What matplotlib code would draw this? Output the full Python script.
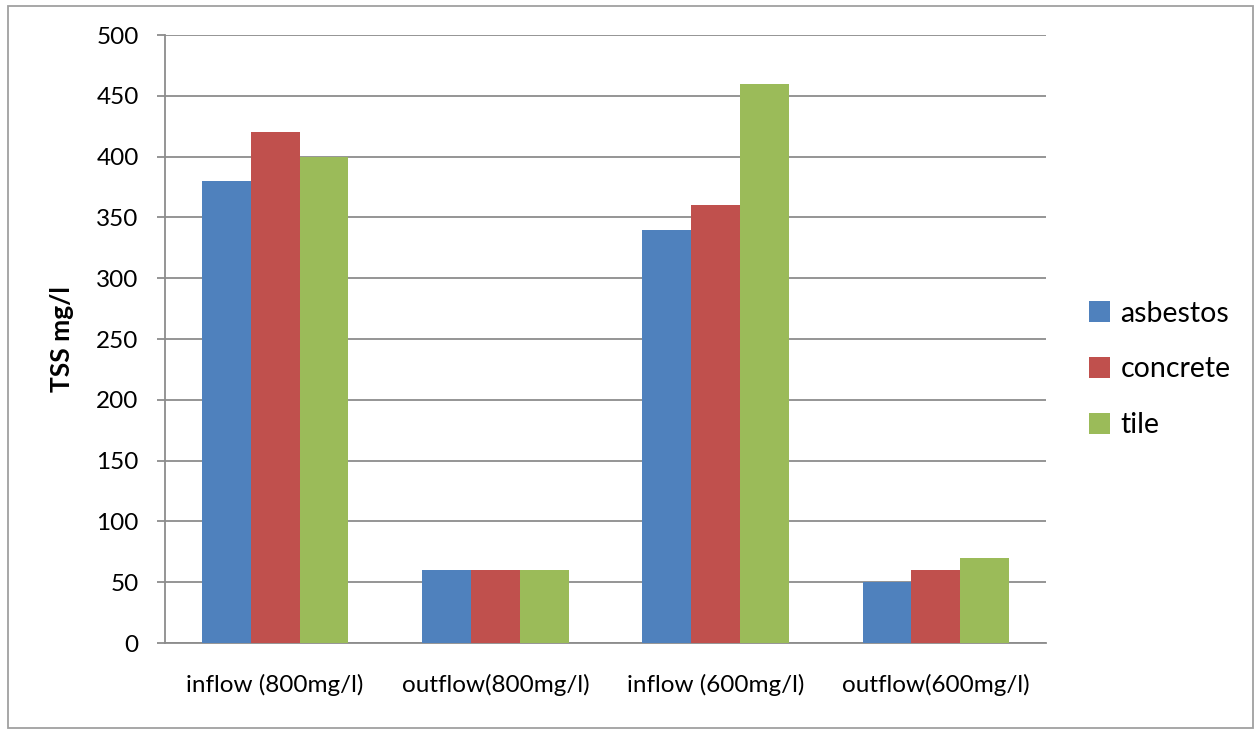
import matplotlib
matplotlib.use("Agg")
import matplotlib.pyplot as plt
import numpy as np
from matplotlib.patches import Rectangle

categories = ["inflow (800mg/l)", "outflow(800mg/l)", "inflow (600mg/l)", "outflow(600mg/l)"]
asbestos = [380, 60, 340, 50]
concrete = [420, 60, 360, 60]
tile = [400, 60, 460, 70]
series_names = ["asbestos", "concrete", "tile"]
colors = ["#4F81BD", "#C0504D", "#9BBB59"]
yticks = list(range(0, 501, 50))

plt.rcParams["font.family"] = ["Lato", "DejaVu Sans"]

fig = plt.figure(figsize=(12.55, 7.30), dpi=100)
ax = fig.add_axes([165 / 1255, 1 - 643 / 730, (1046 - 165) / 1255, (643 - 35) / 730])

x = np.arange(len(categories))
width = 0.222
for i, (vals, name, c) in enumerate(zip([asbestos, concrete, tile], series_names, colors)):
    ax.bar(x + (i - 1) * width, vals, width, color=c, label=name, zorder=3)

grid_c = "#8C8C8C"
ax.set_xlim(-0.5, len(categories) - 0.5)
ax.set_ylim(0, 500)
ax.set_yticks(yticks)
ax.set_xticks(x)
ax.set_xticklabels(categories)
ax.yaxis.grid(True, color=grid_c, linewidth=1.3, zorder=0)
for s in ["top", "right"]:
    ax.spines[s].set_visible(False)
ax.spines["left"].set_color(grid_c)
ax.spines["left"].set_linewidth(1.3)
ax.spines["bottom"].set_color(grid_c)
ax.spines["bottom"].set_linewidth(1.3)
ax.tick_params(axis="y", length=6, width=1.3, color=grid_c, pad=13, labelsize=17.5)
ax.tick_params(axis="x", length=0, pad=22, labelsize=17.5)
ax.set_ylabel("TSS mg/l", fontsize=19, fontweight="bold", labelpad=16)

leg = ax.legend(loc="center left", bbox_to_anchor=(1.036, 0.45), frameon=False,
                fontsize=20.5, handlelength=0.75, handleheight=0.75, handletextpad=0.35,
                labelspacing=1.05, borderaxespad=0)

fig.patches.append(Rectangle((8 / 1255, 1 - 728 / 730), (1253 - 8) / 1255, (728 - 6) / 730,
                             transform=fig.transFigure, fill=False, edgecolor="#A0A0A0",
                             linewidth=1.3))

fig.savefig("out.png", dpi=100)
